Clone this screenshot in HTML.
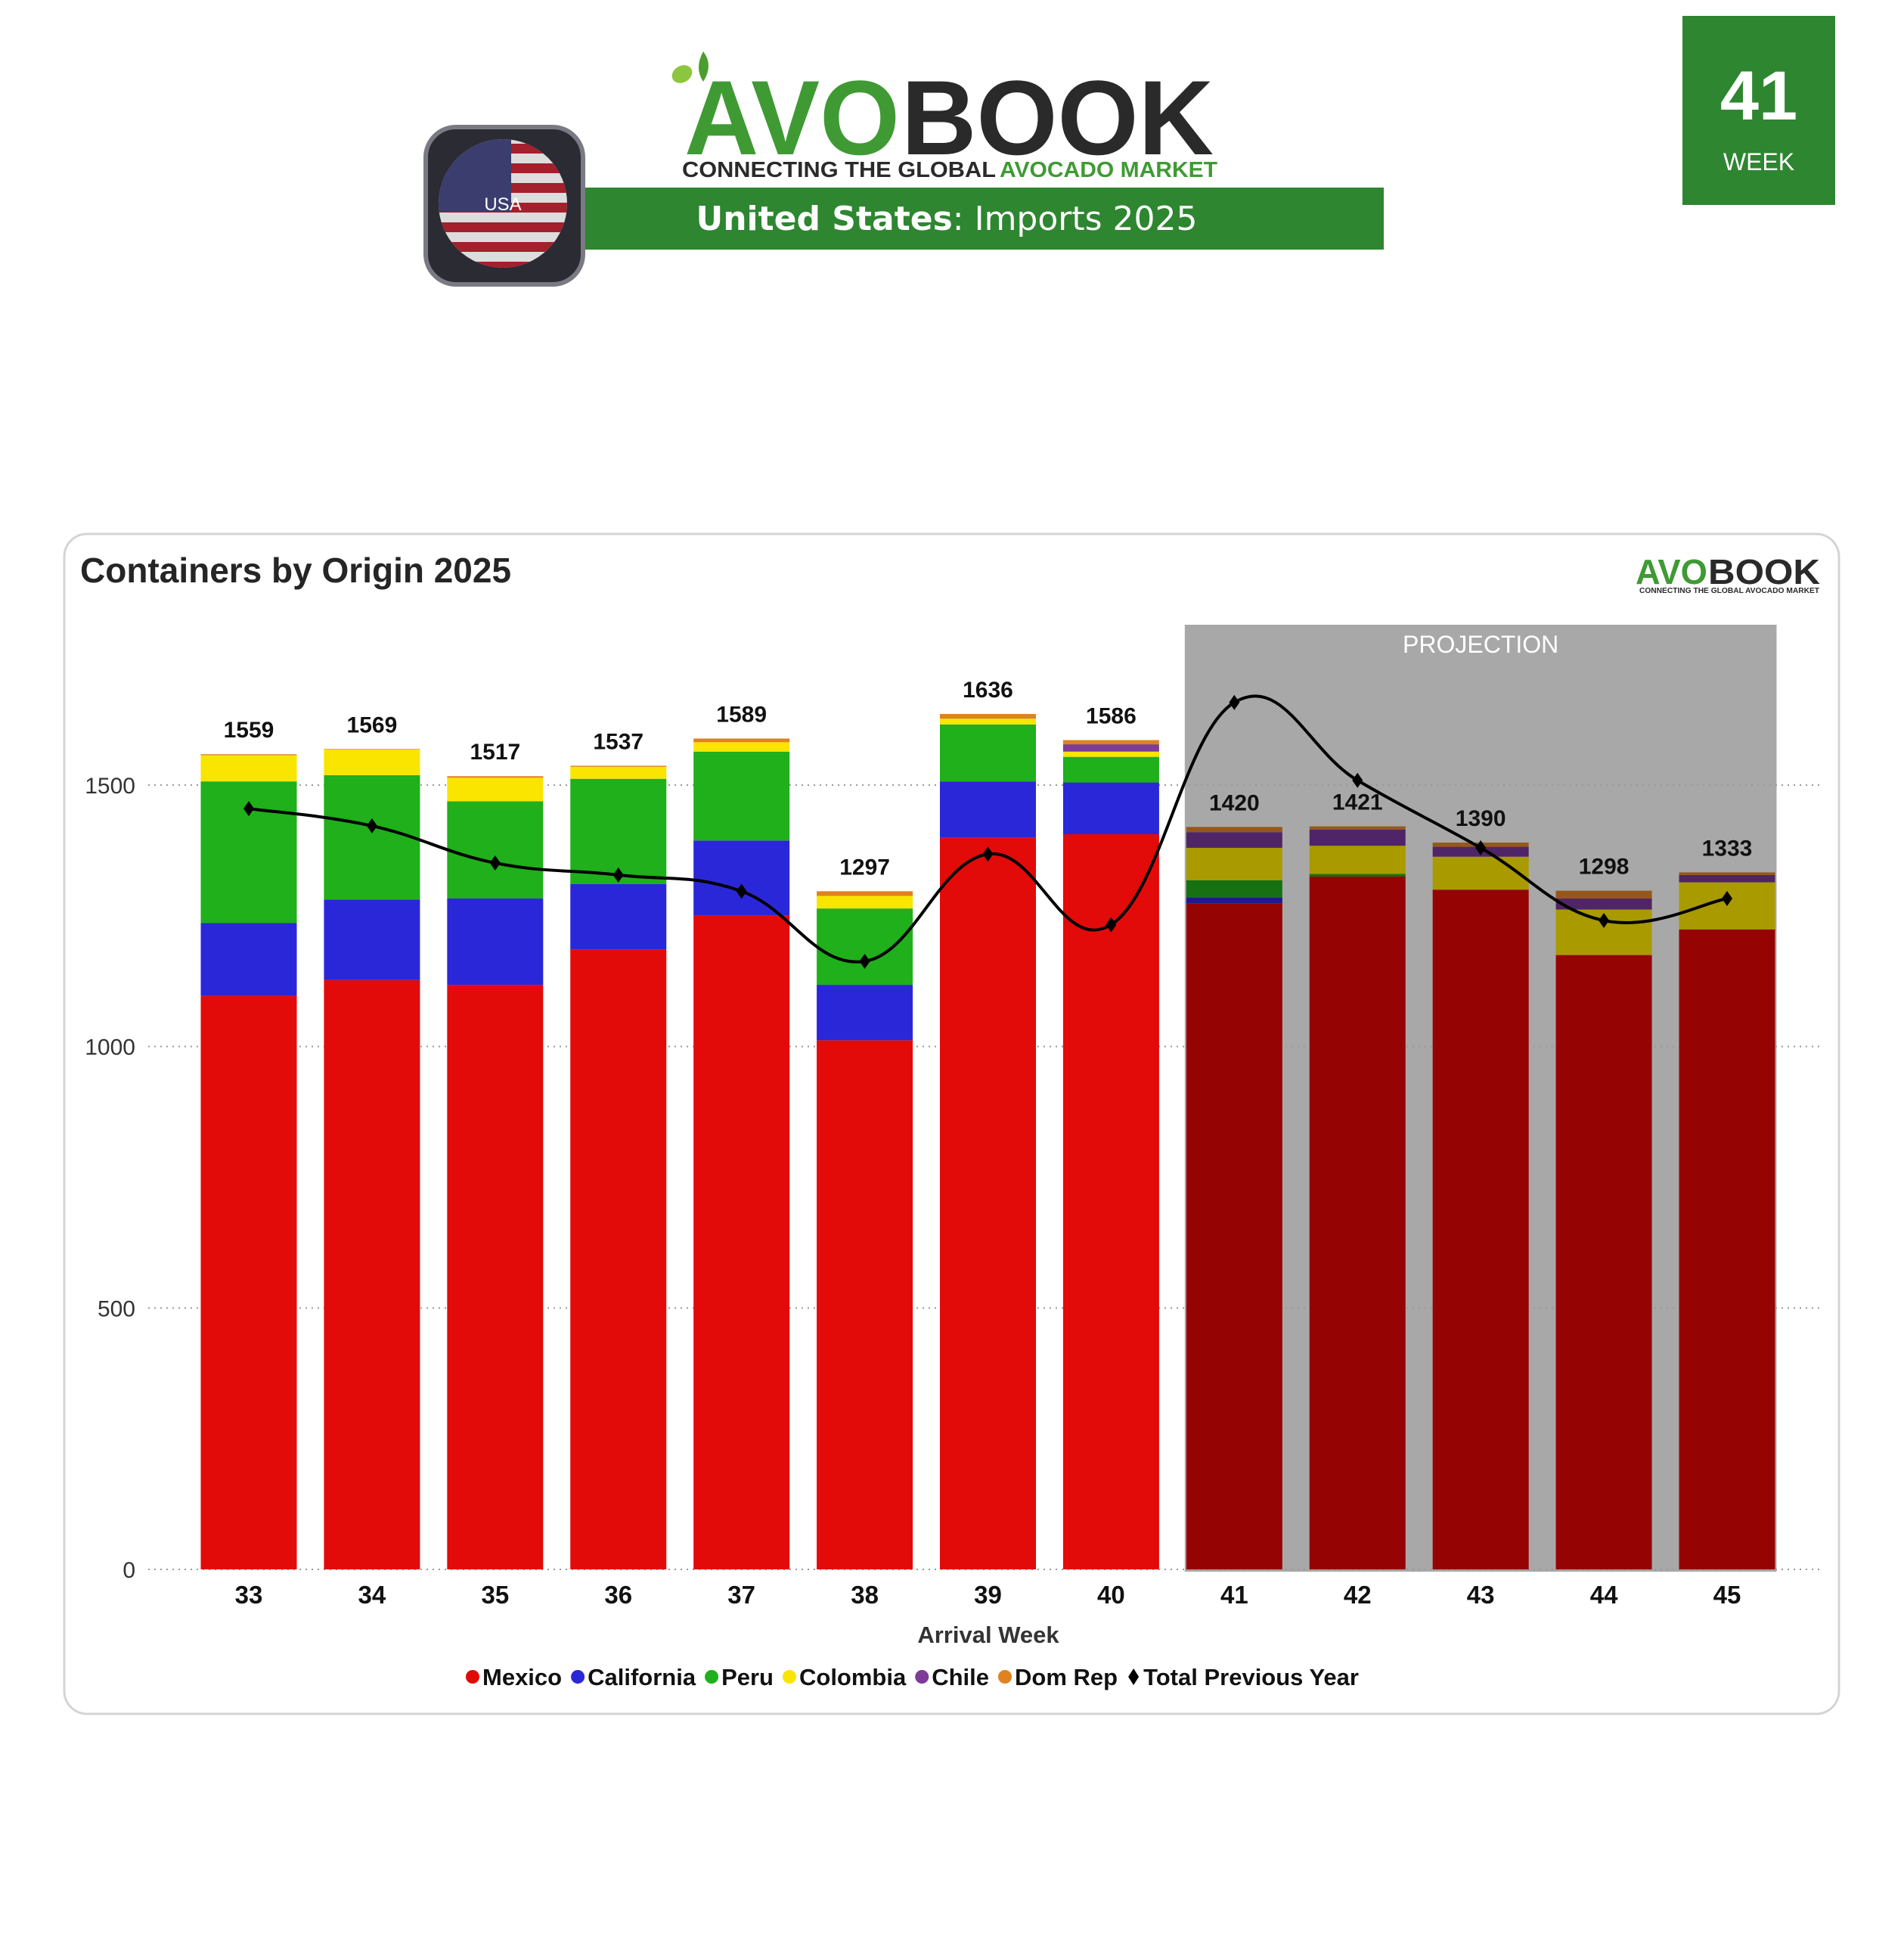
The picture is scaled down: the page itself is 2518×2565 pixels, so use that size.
<!DOCTYPE html>
<html><head><meta charset="utf-8"><style>
html,body{margin:0;padding:0;background:#fff;}
body{width:2518px;height:2560px;position:relative;overflow:hidden;font-family:"Liberation Sans",sans-serif;}
</style></head><body>
<svg id="main" width="2518" height="2560" viewBox="0 0 2518 2560" xmlns="http://www.w3.org/2000/svg">
  <g>
    <g>
      <ellipse cx="902" cy="98" rx="14" ry="11" fill="#8cc63f" transform="rotate(-30 902 98)"/>
      <path d="M930 68 q14 18 0 40 q-12 -18 0 -40z" fill="#4a9e2f"/>
      <text x="905" y="204" font-size="140" font-weight="bold" fill="#3f9a34" textLength="285" lengthAdjust="spacingAndGlyphs" font-family="Liberation Sans, sans-serif">AVO</text>
      <text x="1192" y="204" font-size="140" font-weight="bold" fill="#2a2a2a" textLength="413" lengthAdjust="spacingAndGlyphs" font-family="Liberation Sans, sans-serif">BOOK</text>
      <text x="902" y="234" font-size="29" font-weight="bold" fill="#2a2a2a" textLength="415" lengthAdjust="spacingAndGlyphs">CONNECTING THE GLOBAL</text>
      <text x="1322" y="234" font-size="29" font-weight="bold" fill="#3f9a34" textLength="288" lengthAdjust="spacingAndGlyphs">AVOCADO MARKET</text>
    </g>
    <rect x="771" y="248" width="1059" height="82" fill="#2e8630"/>
    <text x="1252" y="304" text-anchor="middle" font-size="44" fill="#fff" font-family="DejaVu Sans, sans-serif"><tspan font-weight="bold">United States</tspan>: Imports 2025</text>
    <g>
      <rect x="563" y="168" width="208" height="208" rx="40" fill="#2b2b33" stroke="#7a7a84" stroke-width="6"/>
      <clipPath id="fc"><circle cx="665" cy="269" r="85"/></clipPath>
      <g clip-path="url(#fc)">
        <rect x="580" y="184" width="170" height="170" fill="#ddd"/>
        <g fill="#a3202c">
          <rect x="580" y="190" width="170" height="13"/><rect x="580" y="216" width="170" height="13"/>
          <rect x="580" y="242" width="170" height="13"/><rect x="580" y="268" width="170" height="13"/>
          <rect x="580" y="294" width="170" height="13"/><rect x="580" y="320" width="170" height="13"/>
          <rect x="580" y="346" width="170" height="13"/>
        </g>
        <rect x="580" y="184" width="96" height="96" fill="#3a3d6e"/>
      </g>
      <text x="665" y="278" text-anchor="middle" font-size="24" fill="#fff">USA</text>
    </g>
    <g>
      <rect x="2225" y="21" width="202" height="250" fill="#2e8630"/>
      <text x="2326" y="158" text-anchor="middle" font-size="92" font-weight="bold" fill="#fff">41</text>
      <text x="2326" y="225" text-anchor="middle" font-size="32" fill="#fff">WEEK</text>
    </g>
  </g>
  <g>
    <rect x="85" y="706" width="2347" height="1560" rx="30" fill="#fff" stroke="#d4d4d4" stroke-width="3"/>
    <text x="106" y="770" font-size="46" font-weight="bold" fill="#252525">Containers by Origin 2025</text>
    <g>
      <text x="2163" y="772" font-size="46" font-weight="bold" fill="#3f9a34" textLength="95" lengthAdjust="spacingAndGlyphs">AVO</text>
      <text x="2259" y="772" font-size="46" font-weight="bold" fill="#2a2a2a" textLength="148" lengthAdjust="spacingAndGlyphs">BOOK</text>
      <text x="2168" y="784" font-size="10" font-weight="bold" fill="#2a2a2a" textLength="238" lengthAdjust="spacingAndGlyphs">CONNECTING THE GLOBAL AVOCADO MARKET</text>
    </g>
    <g id="plot"></g>
  </g>
</svg>
<script>
const weeks = [33,34,35,36,37,38,39,40,41,42,43,44,45];
const mexico = [1097,1127,1118,1186,1250,1012,1399,1406,1274,1325,1300,1175,1224];
const california = [139,154,165,125,144,106,108,99,11,0,0,0,0];
const peru = [271,238,186,201,170,146,109,49,33,5,0,0,0];
const colombia = [50,49,45,23,18,24,11,10,62,54,63,87,90];
const chile = [0,0,0,0,0,0,0,14,30,31,19,21,14];
const domrep = [2,1,3,2,7,9,9,8,10,6,8,15,5];
const totals = [1559,1569,1517,1537,1589,1297,1636,1586,1420,1421,1390,1298,1333];
const prevYear = [1455,1422,1351,1328,1297,1163,1368,1233,1658,1509,1380,1241,1283];
const yTicks = [0,500,1000,1500];
const projectionStart = 41;

const NS="http://www.w3.org/2000/svg";
const plot=document.getElementById('plot');
const Y0=2075, PX=(2075-1038)/1500;
const yS=v=>Y0-v*PX;
const X0=329, STEP=(2284-329)/12, BW=127;
const xS=i=>X0+i*STEP;
function mk(tag,attrs,parent){const e=document.createElementNS(NS,tag);for(const k in attrs)e.setAttribute(k,attrs[k]);(parent||plot).appendChild(e);return e;}

// projection background
const pi=weeks.indexOf(projectionStart);
const proj=mk('rect',{x:xS(pi)-BW/2-2,y:826,width:xS(weeks.length-1)+BW/2+2-(xS(pi)-BW/2-2),height:Y0+3-826,fill:'#a8a8a8'});


const pt=mk('text',{x:(xS(pi)+xS(weeks.length-1))/2,y:863,'text-anchor':'middle','font-size':32,fill:'#fff'});
pt.textContent='PROJECTION';



// gridlines and y ticks
yTicks.forEach(t=>{
  const l=mk('line',{x1:196,x2:2412,y1:yS(t),y2:yS(t),stroke:'#999','stroke-width':2,'stroke-dasharray':'2 6'});
  
  
  const tx=mk('text',{x:179,y:yS(t)+11,'text-anchor':'end','font-size':30,fill:'#333'});
  tx.textContent=t;
  
  
});

const series=[['mexico',mexico,'#e30a0a','#960303'],['california',california,'#2a27d9','#1e1a8c'],['peru',peru,'#1fb01b','#157112'],['colombia',colombia,'#f9e500','#a99a00'],['chile',chile,'#7d3c98','#4f2567'],['dom-rep',domrep,'#e0821e','#96571a']];
weeks.forEach((w,i)=>{
  let acc=0;
  const isP=w>=projectionStart;
  series.forEach(([n,arr,c,d])=>{
    const v=arr[i]; if(!v){return;}
    const r=mk('rect',{x:xS(i)-BW/2,y:yS(acc+v),width:BW,height:v*PX,fill:isP?d:c});
    
    
    acc+=v;
  });
  const vl=mk('text',{x:xS(i),y:yS(totals[i])-22,'text-anchor':'middle','font-size':30,'font-weight':'bold',fill:'#111'});
  vl.textContent=totals[i];
  
  
  const xl=mk('text',{x:xS(i),y:2120,'text-anchor':'middle','font-size':33,'font-weight':'bold',fill:'#111'});
  xl.textContent=w;
  
  
});

// smooth line (Catmull-Rom)
const pts=prevYear.map((v,i)=>[xS(i),yS(v)]);
let d='M'+pts[0][0]+','+pts[0][1];
for(let i=0;i<pts.length-1;i++){
  const p0=pts[i-1]||pts[i],p1=pts[i],p2=pts[i+1],p3=pts[i+2]||p2;
  const t=0.2;
  d+=' C'+(p1[0]+(p2[0]-p0[0])*t)+','+(p1[1]+(p2[1]-p0[1])*t)+' '+(p2[0]-(p3[0]-p1[0])*t)+','+(p2[1]-(p3[1]-p1[1])*t)+' '+p2[0]+','+p2[1];
}
const line=mk('path',{d:d,fill:'none',stroke:'#000','stroke-width':4});


pts.forEach((p,i)=>{
  const m=mk('path',{d:`M${p[0]},${p[1]-10} L${p[0]+7},${p[1]} L${p[0]},${p[1]+10} L${p[0]-7},${p[1]}Z`,fill:'#000'});
  
  
});

const at=mk('text',{x:1307,y:2172,'text-anchor':'middle','font-size':31,'font-weight':'bold',fill:'#333'});
at.textContent='Arrival Week';



// legend
const leg=[['Mexico','#e30a0a'],['California','#2a27d9'],['Peru','#1fb01b'],['Colombia','#f9e500'],['Chile','#7d3c98'],['Dom Rep','#e0821e'],['Total Previous Year','#000']];
const lg=mk('g',{});


let lx=616;
leg.forEach(([n,c],k)=>{
  const g=mk('g',{},lg);
  
  
  if(k<6) mk('circle',{cx:lx+9,cy:2217,r:9,fill:c},g);
  else mk('path',{d:`M${lx+9},${2206} L${lx+16},${2217} L${lx+9},${2228} L${lx+2},${2217}Z`,fill:c},g);
  const t=mk('text',{x:lx+22,y:2228,'font-size':31,'font-weight':'bold',fill:'#111'},g);
  t.textContent=n;
  lx+=22+t.getComputedTextLength()+12;
});
</script>
</body></html>
